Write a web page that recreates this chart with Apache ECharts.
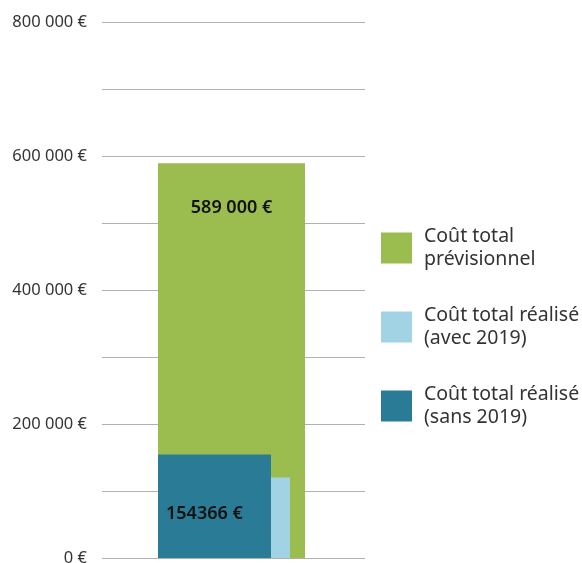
<!DOCTYPE html>
<html>
<head>
<meta charset="utf-8">
<script src="https://cdn.jsdelivr.net/npm/echarts@6/dist/echarts.min.js"></script>
<style>
  html, body { margin: 0; padding: 0; background: #fff; }
  #chart { width: 582px; height: 563px; }
</style>
</head>
<body>
<div id="chart"></div>
<script>
// Budget figures
const categories = ['Coût'];
const previsionnel = [589000];
const realiseAvec2019 = [120000];
const realiseSans2019 = [154366];
const seriesNames = ['Coût total\nprévisionnel', 'Coût total réalisé\n(avec 2019)', 'Coût total réalisé\n(sans 2019)'];
const yTicks = [0, 200000, 400000, 600000, 800000];

const FONT = '"Noto Sans", sans-serif';

function euro(v) {
  return v.toString().replace(/\B(?=(\d{3})+(?!\d))/g, ' ') + ' €';
}

const chart = echarts.init(document.getElementById('chart'));
chart.setOption({
  animation: false,
  grid: [
    { left: 102, right: 217, top: 22, bottom: 5, outerBoundsMode: 'none' },
    { left: 102, right: 221, top: 22, bottom: 5, outerBoundsMode: 'none' },
    { left: 102, right: 236, top: 22, bottom: 5, outerBoundsMode: 'none' }
  ],
  xAxis: [0, 1, 2].map(i => ({
    type: 'category', gridIndex: i, data: categories, show: false
  })),
  yAxis: [0, 1, 2].map(i => ({
    type: 'value', gridIndex: i, min: 0, max: 800000, interval: 100000,
    show: i === 0,
    axisLine: { show: false },
    axisTick: { show: false },
    splitLine: { show: i === 0, lineStyle: { color: '#b0b0b0', width: 1 } },
    axisLabel: {
      margin: 15,
      color: '#333',
      fontFamily: FONT,
      fontSize: 16.5,
      formatter: v => (yTicks.indexOf(v) >= 0 ? euro(v) : '')
    }
  })),
  legend: {
    orient: 'vertical',
    left: 381,
    top: 225,
    padding: 0,
    itemWidth: 31,
    itemHeight: 31,
    itemGap: 33,
    icon: 'rect',
    data: [seriesNames[0], seriesNames[1], seriesNames[2]],
    textStyle: { fontFamily: FONT, fontSize: 19.5, color: '#333', lineHeight: 23, padding: [0, 0, 0, 7] }
  },
  series: [
    {
      name: seriesNames[0], type: 'bar', xAxisIndex: 1, yAxisIndex: 1,
      data: previsionnel, barWidth: 147,
      itemStyle: { color: '#9bbd4f' },
      label: {
        show: true, position: 'insideTop', distance: 36,
        formatter: p => euro(p.value),
        fontFamily: FONT, fontSize: 18, fontWeight: 600, color: '#111'
      }
    },
    {
      name: seriesNames[2], type: 'bar', xAxisIndex: 2, yAxisIndex: 2,
      data: realiseSans2019, barWidth: 113, barGap: '0%',
      itemStyle: { color: '#2a7c96' },
      label: {
        show: true, position: 'insideLeft', distance: 8, offset: [0, 8],
        formatter: p => p.value + ' €',
        fontFamily: FONT, fontSize: 18, fontWeight: 600, color: '#111'
      }
    },
    {
      name: seriesNames[1], type: 'bar', xAxisIndex: 2, yAxisIndex: 2,
      data: realiseAvec2019, barWidth: 19, barGap: '0%',
      itemStyle: { color: '#a1d3e5' }
    }
  ]
});
</script>
</body>
</html>
